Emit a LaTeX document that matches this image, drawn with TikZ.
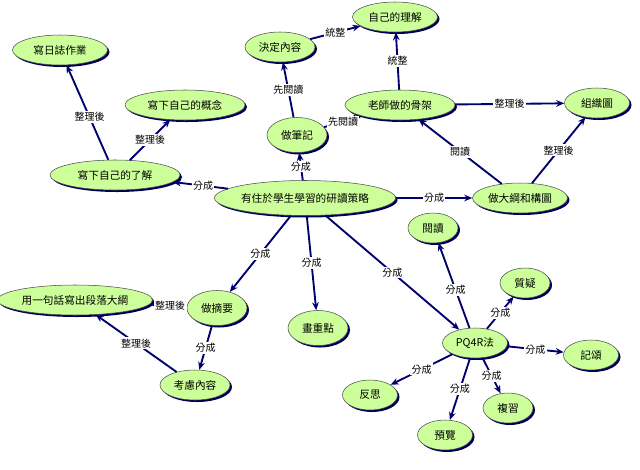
\documentclass[tikz,border=0pt]{standalone}
\usepackage{fontspec}
\setmainfont{Noto Sans CJK TC}
\usetikzlibrary{shapes.geometric,shadows,arrows.meta}
\definecolor{nodegreen}{RGB}{204,255,153}
\definecolor{navy}{RGB}{0,0,110}
\begin{document}
\begin{tikzpicture}[x=0.75pt,y=-0.75pt,
  cn/.style={ellipse,draw=black!70,thin,fill=nodegreen,inner sep=0pt,font=\fontsize{8}{9}\selectfont,
    drop shadow={fill=navy!80!black,opacity=1,shadow xshift=1.5pt,shadow yshift=-1.5pt}},
  ar/.style={draw=navy,line width=1.4pt,-{Stealth[length=6pt,width=5pt]}},
  lb/.style={fill=white,inner sep=1pt,font=\fontsize{7.5}{9}\selectfont}]
\useasboundingbox (0,0) rectangle (640,469);
\node[cn,minimum width=95*0.75pt,minimum height=30*0.75pt] (diary) at (60,50) {寫日誌作業};
\node[cn,minimum width=120*0.75pt,minimum height=30*0.75pt] (concept) at (185,105) {寫下自己的概念};
\node[cn,minimum width=130*0.75pt,minimum height=30*0.75pt] (under) at (115,175) {寫下自己的了解};
\node[cn,minimum width=70*0.75pt,minimum height=30*0.75pt] (decide) at (280,47) {決定內容};
\node[cn,minimum width=85*0.75pt,minimum height=30*0.75pt] (self) at (395,17) {自己的理解};
\node[cn,minimum width=60*0.75pt,minimum height=35*0.75pt] (notes) at (297,135) {做筆記};
\node[cn,minimum width=110*0.75pt,minimum height=30*0.75pt] (frame) at (400,105) {老師做的骨架};
\node[cn,minimum width=65*0.75pt,minimum height=30*0.75pt] (org) at (597,103) {組織圖};
\node[cn,minimum width=175*0.75pt,minimum height=35*0.75pt] (main) at (305,198) {有住於學生學習的研讀策略};
\node[cn,minimum width=95*0.75pt,minimum height=30*0.75pt] (outline) at (520,198) {做大綱和構圖};
\node[cn,minimum width=50*0.75pt,minimum height=30*0.75pt] (read) at (433,228) {閱讀};
\node[cn,minimum width=50*0.75pt,minimum height=30*0.75pt] (ques) at (525,283) {質疑};
\node[cn,minimum width=155*0.75pt,minimum height=30*0.75pt] (sent) at (75,300) {用一句話寫出段落大綱};
\node[cn,minimum width=60*0.75pt,minimum height=35*0.75pt] (summ) at (217,308) {做摘要};
\node[cn,minimum width=60*0.75pt,minimum height=35*0.75pt] (high) at (318,328) {畫重點};
\node[cn,minimum width=65*0.75pt,minimum height=30*0.75pt] (pq) at (475,343) {PQ4R法};
\node[cn,minimum width=55*0.75pt,minimum height=30*0.75pt] (recite) at (591,355) {記頌};
\node[cn,minimum width=70*0.75pt,minimum height=30*0.75pt] (cons) at (195,385) {考慮內容};
\node[cn,minimum width=55*0.75pt,minimum height=30*0.75pt] (refl) at (370,395) {反思};
\node[cn,minimum width=50*0.75pt,minimum height=30*0.75pt] (rev) at (508,408) {複習};
\node[cn,minimum width=55*0.75pt,minimum height=30*0.75pt] (prev) at (445,435) {預覽};

\draw[ar] (under) -- node[lb,pos=0.45]{整理後} (diary);
\draw[ar] (under) -- node[lb,pos=0.5]{整理後} (concept);
\draw[ar] (main) -- node[lb,pos=0.45]{分成} (under);
\draw[ar] (main) -- node[lb,pos=0.5]{分成} (notes);
\draw[ar] (notes) -- node[lb,pos=0.5]{先閱讀} (decide);
\draw[ar] (notes) -- node[lb,pos=0.5]{先閱讀} (frame);
\draw[ar] (decide) -- node[lb,pos=0.5]{統整} (self);
\draw[ar] (frame) -- node[lb,pos=0.5]{統整} (self);
\draw[ar] (frame) -- node[lb,pos=0.5]{整理後} (org);
\draw[ar] (outline) -- node[lb,pos=0.5]{閱讀} (frame);
\draw[ar] (outline) -- node[lb,pos=0.5]{整理後} (org);
\draw[ar] (main) -- node[lb,pos=0.5]{分成} (outline);
\draw[ar] (main) -- node[lb,pos=0.5]{分成} (summ);
\draw[ar] (main) -- node[lb,pos=0.5]{分成} (high);
\draw[ar] (main) -- node[lb,pos=0.5]{分成} (pq);
\draw[ar] (pq) -- node[lb,pos=0.45]{分成} (read);
\draw[ar] (pq) -- node[lb,pos=0.5]{分成} (ques);
\draw[ar] (pq) -- node[lb,pos=0.5]{分成} (recite);
\draw[ar] (pq) -- node[lb,pos=0.5]{分成} (refl);
\draw[ar] (pq) -- node[lb,pos=0.5]{分成} (prev);
\draw[ar] (pq) -- node[lb,pos=0.5]{分成} (rev);
\draw[ar] (summ) -- node[lb,pos=0.45]{整理後} (sent);
\draw[ar] (summ) -- node[lb,pos=0.5]{分成} (cons);
\draw[ar] (cons) -- node[lb,pos=0.5]{整理後} (sent);
\end{tikzpicture}
\end{document}
